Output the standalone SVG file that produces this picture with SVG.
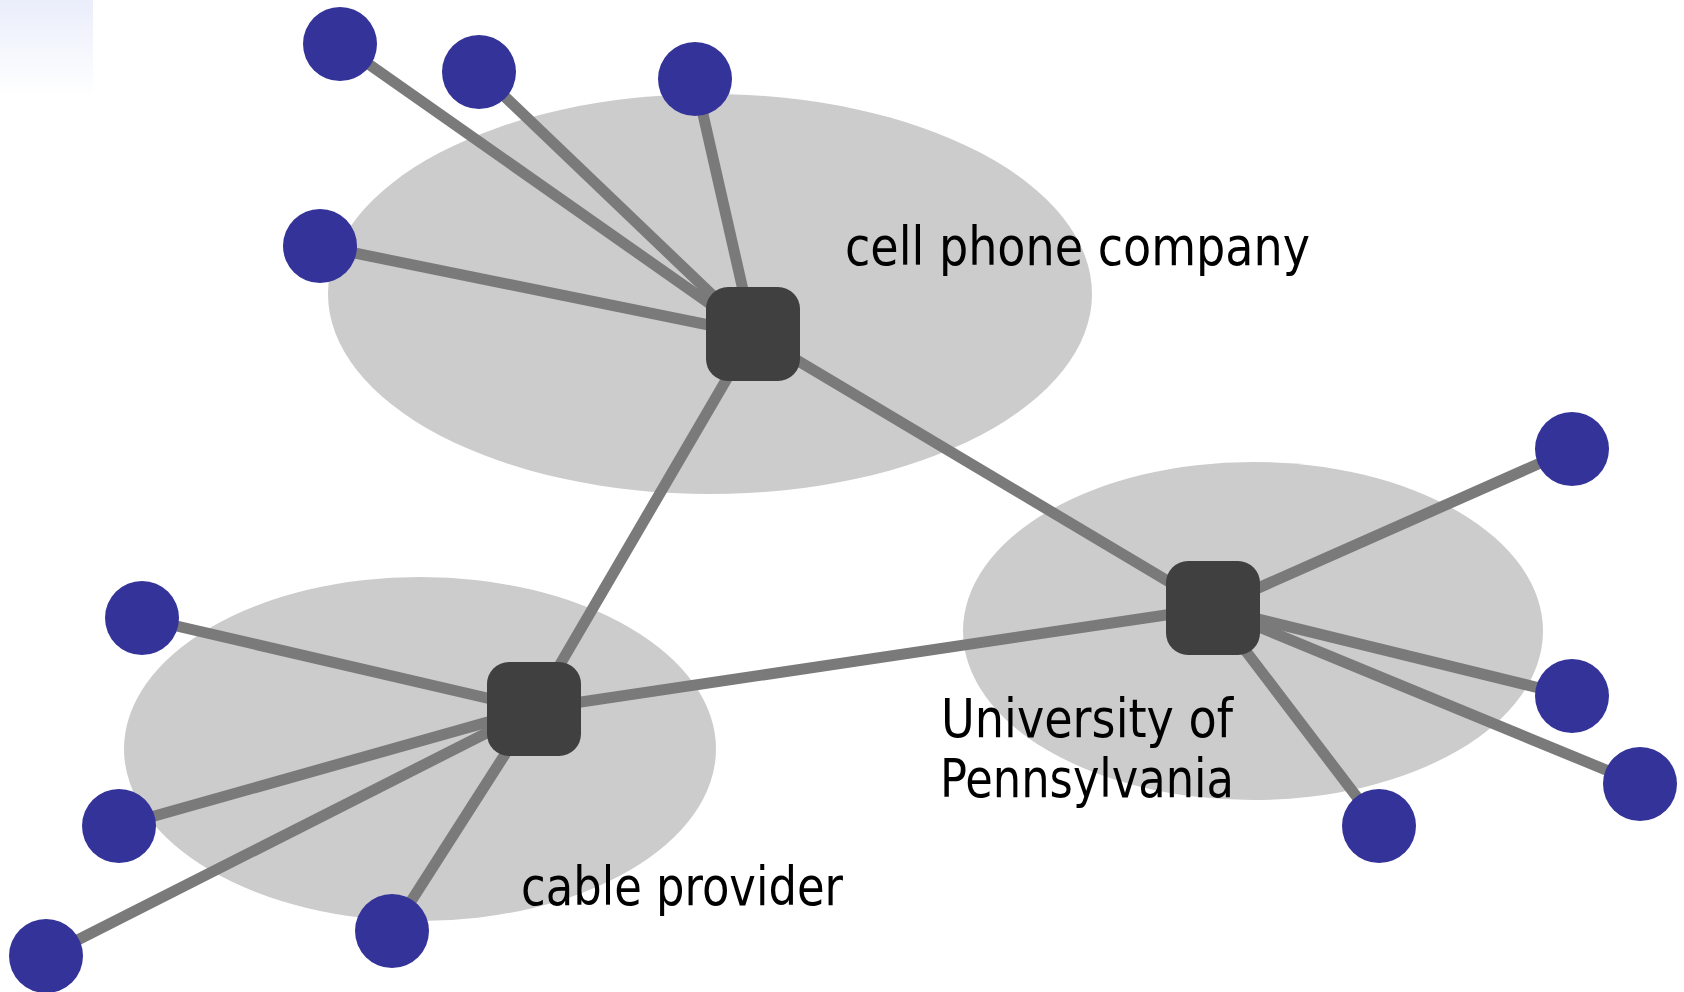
<svg xmlns="http://www.w3.org/2000/svg" width="1684" height="992" viewBox="0 0 1684 992">
<defs>
<linearGradient id="corner" x1="0" y1="0" x2="0" y2="1">
<stop offset="0" stop-color="#eaeefb"/>
<stop offset="1" stop-color="#ffffff"/>
</linearGradient>
</defs>
<style>
.cloud{fill:#cccccc}
.link{stroke:#7a7a7a;stroke-width:11;fill:none}
.host{fill:#333399}
.router{fill:#404040}
.lbl{font-family:"DejaVu Sans Condensed","DejaVu Sans",sans-serif;font-size:54px;fill:#000}
</style>
<rect x="0" y="0" width="93" height="97" fill="url(#corner)"/>
<g id="clouds">
<ellipse class="cloud" cx="710" cy="294" rx="382" ry="200"/>
<ellipse class="cloud" cx="420" cy="749" rx="296" ry="172"/>
<ellipse class="cloud" cx="1253" cy="631" rx="290" ry="169"/>
</g>
<g id="connectors">
<line class="link" x1="753" y1="334" x2="340" y2="44"/>
<line class="link" x1="753" y1="334" x2="479" y2="72"/>
<line class="link" x1="753" y1="334" x2="695" y2="79"/>
<line class="link" x1="753" y1="334" x2="320" y2="246"/>
<line class="link" x1="753" y1="334" x2="534" y2="709"/>
<line class="link" x1="753" y1="334" x2="1213" y2="608"/>
<line class="link" x1="534" y1="709" x2="1213" y2="608"/>
<line class="link" x1="534" y1="709" x2="142" y2="618"/>
<line class="link" x1="534" y1="709" x2="119" y2="826"/>
<line class="link" x1="534" y1="709" x2="46" y2="956"/>
<line class="link" x1="534" y1="709" x2="392" y2="931"/>
<line class="link" x1="1213" y1="608" x2="1572" y2="449"/>
<line class="link" x1="1213" y1="608" x2="1572" y2="696"/>
<line class="link" x1="1213" y1="608" x2="1640" y2="784"/>
<line class="link" x1="1213" y1="608" x2="1379" y2="826"/>
</g>
<g id="router-cell"><rect class="router" x="706" y="287" width="94" height="94" rx="22"/></g>
<g id="router-cable"><rect class="router" x="487" y="662" width="94" height="94" rx="22"/></g>
<g id="router-upenn"><rect class="router" x="1166" y="561" width="94" height="94" rx="22"/></g>
<g id="host-c1"><circle class="host" cx="340" cy="44" r="37"/></g>
<g id="host-c2"><circle class="host" cx="479" cy="72" r="37"/></g>
<g id="host-c3"><circle class="host" cx="695" cy="79" r="37"/></g>
<g id="host-c4"><circle class="host" cx="320" cy="246" r="37"/></g>
<g id="host-k1"><circle class="host" cx="142" cy="618" r="37"/></g>
<g id="host-k2"><circle class="host" cx="119" cy="826" r="37"/></g>
<g id="host-k3"><circle class="host" cx="46" cy="956" r="37"/></g>
<g id="host-k4"><circle class="host" cx="392" cy="931" r="37"/></g>
<g id="host-u1"><circle class="host" cx="1572" cy="449" r="37"/></g>
<g id="host-u2"><circle class="host" cx="1572" cy="696" r="37"/></g>
<g id="host-u3"><circle class="host" cx="1640" cy="784" r="37"/></g>
<g id="host-u4"><circle class="host" cx="1379" cy="826" r="37"/></g>
<g id="labels">
<text class="lbl" x="845" y="265" textLength="465" lengthAdjust="spacingAndGlyphs">cell phone company</text>
<text class="lbl" x="941" y="737" textLength="292" lengthAdjust="spacingAndGlyphs">University of</text>
<text class="lbl" x="940" y="797" textLength="294" lengthAdjust="spacingAndGlyphs">Pennsylvania</text>
<text class="lbl" x="521" y="905" textLength="322" lengthAdjust="spacingAndGlyphs">cable provider</text>
</g>
</svg>
